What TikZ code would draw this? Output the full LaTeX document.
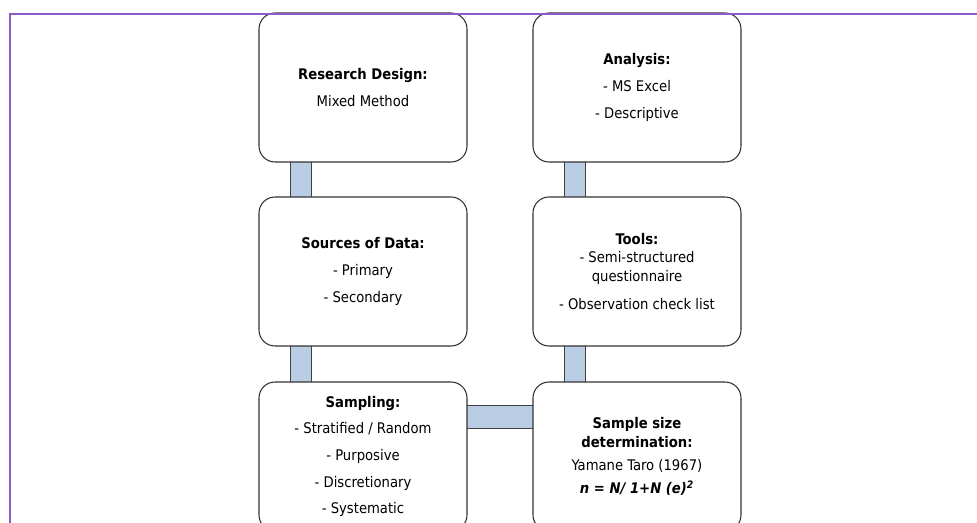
\documentclass[tikz,border=0pt]{standalone}
\usepackage{fontspec}
\setmainfont{DejaVu Sans Condensed}
\usetikzlibrary{calc,backgrounds}
\definecolor{cBar}{HTML}{B9CDE5}
\definecolor{cBarL}{HTML}{3F3F3F}
\definecolor{cBox}{HTML}{333333}
\definecolor{cFrame}{HTML}{8A5CC6}

\begin{document}
\begin{tikzpicture}[
  x=0.75pt, y=-0.75pt,
  % ── boxes: white, rounded; bars: pale blue ──
  bx/.style={rounded corners=12pt, draw=cBox, fill=white, line width=0.8pt,
             minimum width=156pt, minimum height=111.75pt, align=center,
             font=\fontsize{11}{14}\selectfont, inner sep=0pt},
  bar/.style={fill=cBar, draw=cBarL, line width=0.6pt},
]
\useasboundingbox (0,0) rectangle (977,523);
\clip (0,0) rectangle (977,523);

% ── left column ──────────────────────────────────────────
\node[bx] (rd) at (363,87.5)
  {\textbf{Research Design:}\\[6pt] Mixed Method};
\node[bx] (sd) at (363,271.5)
  {\textbf{Sources of Data:}\\[6pt] - Primary\\[6pt] - Secondary};
\node[bx] (sp) at (363,456.5)
  {\textbf{Sampling:}\\[6pt] - Stratified / Random\\[6pt] - Purposive\\[6pt]
   - Discretionary\\[6pt] - Systematic};

% ── right column ─────────────────────────────────────────
\node[bx] (an) at (637,87.5)
  {\textbf{Analysis:}\\[6pt] - MS Excel\\[6pt] - Descriptive};
\node[bx] (tl) at (637,271.5)
  {\textbf{Tools:}\\ - Semi-structured\\ questionnaire\\[7pt]
   - Observation check list};
\node[bx] (ss) at (637,456.5)
  {\textbf{Sample size}\\ \textbf{determination:}\\[3.5pt] Yamane Taro (1967)\\[3.5pt]
   \textbf{\itshape n = N/ 1+N (e)\textsuperscript{2}}};

% ── bars between boxes ───────────────────────────────────
\begin{scope}[on background layer]
  \fill[white] (0,0) rectangle (977,523);
  \draw[bar] ($(rd.south west)+(32,-4)$) rectangle ($(sd.north west)+(53,4)$);
  \draw[bar] ($(sd.south west)+(32,-4)$) rectangle ($(sp.north west)+(53,4)$);
  \draw[bar] ($(an.south west)+(32,-4)$) rectangle ($(tl.north west)+(53,4)$);
  \draw[bar] ($(tl.south west)+(32,-4)$) rectangle ($(ss.north west)+(53,4)$);
  \draw[bar] ($(sp.north east)+(-4,24)$) rectangle ($(ss.north west)+(4,47)$);
\end{scope}

% ── frame line ───────────────────────────────────────────
\draw[cFrame, line width=1.5pt] (977,14) -- (10,14) -- (10,523);
\end{tikzpicture}
\end{document}
